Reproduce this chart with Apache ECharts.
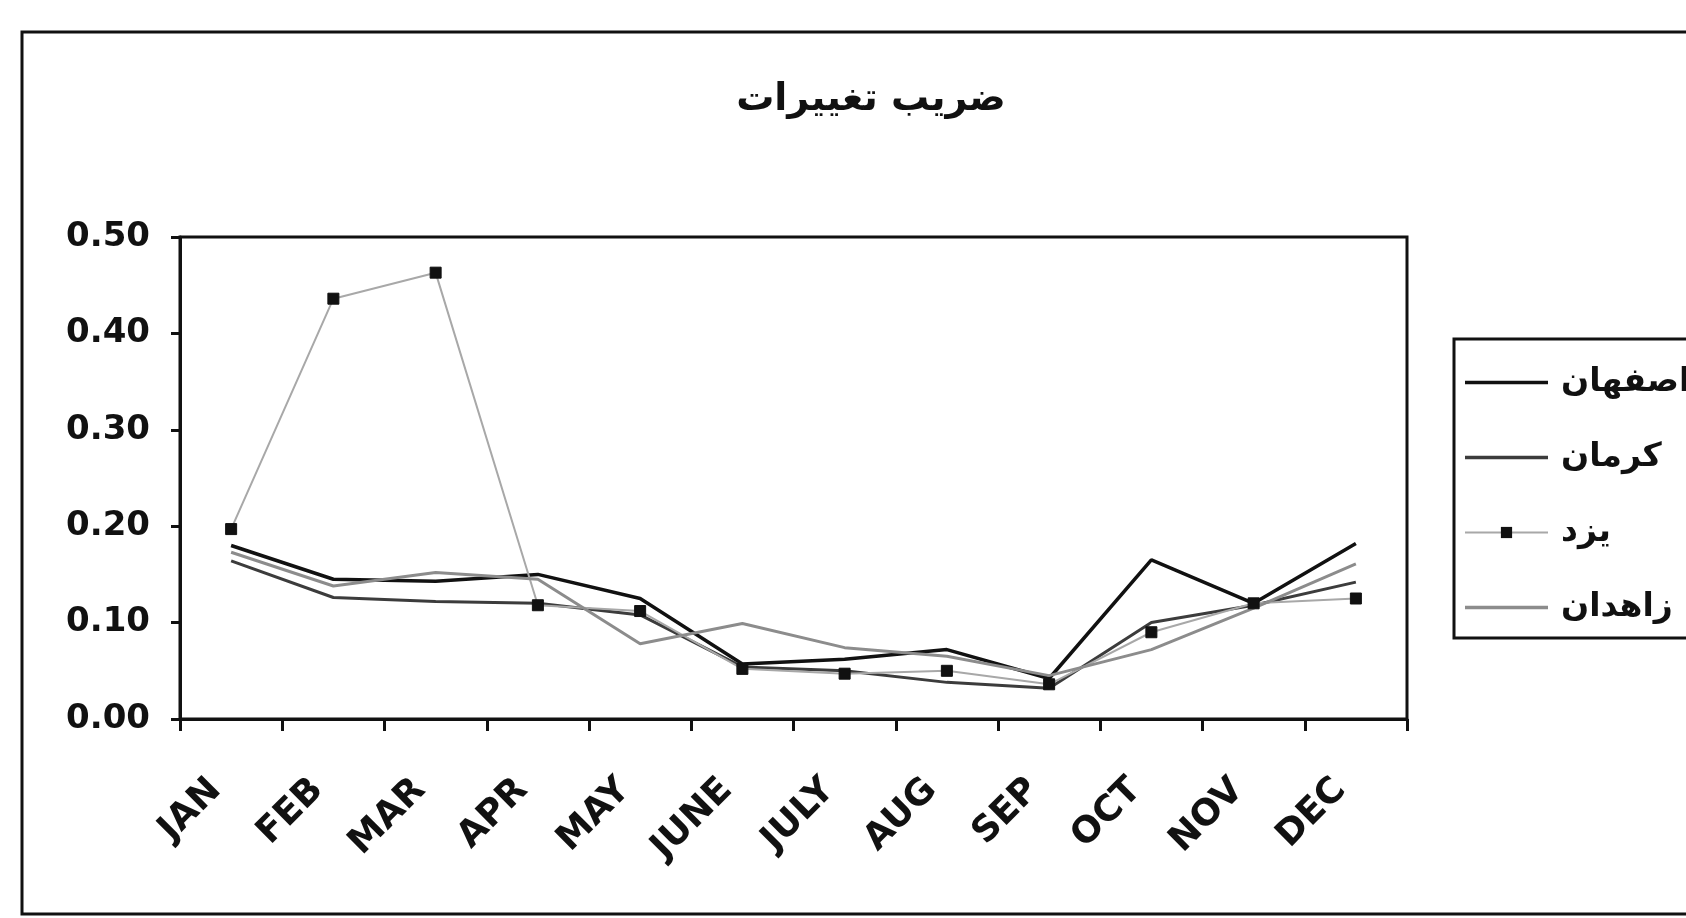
<!DOCTYPE html>
<html>
<head>
<meta charset="utf-8">
<title>ضریب تغییرات</title>
<script src="https://cdn.jsdelivr.net/npm/echarts/dist/echarts.min.js"></script>
<style>
    html, body { margin: 0; padding: 0; background: #fff; }
    #chart { width: 1686px; height: 918px; }
</style>
</head>
<body>
<div id="chart"></div>
<script>
// data
const months = ['JAN', 'FEB', 'MAR', 'APR', 'MAY', 'JUNE', 'JULY', 'AUG', 'SEP', 'OCT', 'NOV', 'DEC'];
const seriesNames = ['اصفهان', 'کرمان', 'یزد', 'زاهدان'];
const isfahan = [0.180, 0.145, 0.143, 0.150, 0.125, 0.057, 0.062, 0.072, 0.042, 0.165, 0.120, 0.182];
const kerman = [0.164, 0.126, 0.122, 0.120, 0.108, 0.054, 0.050, 0.038, 0.032, 0.100, 0.118, 0.142];
const yazd = [0.197, 0.436, 0.463, 0.118, 0.112, 0.052, 0.047, 0.050, 0.036, 0.090, 0.120, 0.125];
const zahedan = [0.173, 0.138, 0.152, 0.145, 0.078, 0.099, 0.074, 0.065, 0.045, 0.072, 0.115, 0.161];
const yTicks = [0, 0.1, 0.2, 0.3, 0.4, 0.5];

const chart = echarts.init(document.getElementById('chart'));

const font = 'DejaVu Sans';
// thin bar used as legend icon for the plain lines
const lineIcon = 'path://M0,0 H100 V4 H0 Z';

const option = {
    backgroundColor: '#fff',
    animation: false,
    title: {
        text: 'ضریب تغییرات',
        left: 866,
        top: 76,
        textAlign: 'center',
        textStyle: { fontFamily: font, fontSize: 38, fontWeight: 'bold', color: '#111' }
    },
    graphic: [
        {
            // outer chart frame
            type: 'rect',
            shape: { x: 22, y: 32, width: 1700, height: 882 },
            style: { fill: 'none', stroke: '#111', lineWidth: 3 },
            silent: true
        }
    ],
    legend: {
        orient: 'vertical',
        left: 1454,
        top: 339,
        padding: [27, 40, 14, 10],
        itemGap: 42,
        itemWidth: 83,
        itemHeight: 14,
        borderColor: '#111',
        borderWidth: 3,
        data: [
            { name: seriesNames[0], icon: lineIcon },
            { name: seriesNames[1], icon: lineIcon },
            { name: seriesNames[2] },
            { name: seriesNames[3], icon: lineIcon }
        ],
        textStyle: {
            fontFamily: font,
            fontSize: 33,
            fontWeight: 'bold',
            color: '#111',
            lineHeight: 32,
            padding: [0, 0, 0, 8]
        }
    },
    grid: {
        left: 180,
        right: 279,
        top: 237,
        bottom: 199,
        show: true,
        borderColor: '#111',
        borderWidth: 3
    },
    xAxis: {
        type: 'category',
        data: months,
        boundaryGap: true,
        axisLine: { lineStyle: { color: '#111', width: 3 } },
        axisTick: { show: true, length: 12, lineStyle: { color: '#111', width: 3 } },
        axisLabel: {
            rotate: 45,
            margin: 50,
            padding: [0, 22, 0, 0],
            interval: 0,
            fontFamily: font,
            fontSize: 36,
            fontWeight: 'bold',
            color: '#111'
        }
    },
    yAxis: {
        type: 'value',
        min: yTicks[0],
        max: yTicks[yTicks.length - 1],
        interval: 0.1,
        splitLine: { show: false },
        axisLine: { show: true, lineStyle: { color: '#111', width: 3 } },
        axisTick: { show: true, length: 9, lineStyle: { color: '#111', width: 3 } },
        axisLabel: {
            margin: 30,
            fontFamily: font,
            fontSize: 34,
            fontWeight: 'bold',
            color: '#111',
            formatter: v => v.toFixed(2)
        }
    },
    series: [
        {
            name: seriesNames[0],
            type: 'line',
            data: isfahan,
            symbol: 'none',
            lineStyle: { color: '#111', width: 3.5 },
            itemStyle: { color: '#111' }
        },
        {
            name: seriesNames[1],
            type: 'line',
            data: kerman,
            symbol: 'none',
            lineStyle: { color: '#3c3c3c', width: 3 },
            itemStyle: { color: '#3c3c3c' }
        },
        {
            name: seriesNames[2],
            type: 'line',
            data: yazd,
            symbol: 'rect',
            symbolSize: 11,
            lineStyle: { color: '#a8a8a8', width: 2 },
            itemStyle: { color: '#111', borderColor: '#111' }
        },
        {
            name: seriesNames[3],
            type: 'line',
            data: zahedan,
            symbol: 'none',
            lineStyle: { color: '#8c8c8c', width: 3 },
            itemStyle: { color: '#8c8c8c' }
        }
    ]
};

chart.setOption(option);
</script>
</body>
</html>
